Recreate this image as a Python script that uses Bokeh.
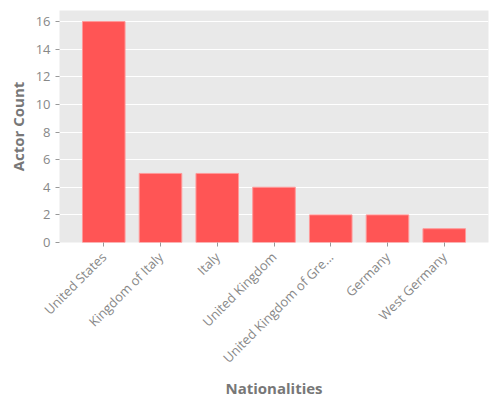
from bokeh.plotting import figure
from bokeh.models import FactorRange, Range1d
from bokeh.embed import file_html
from bokeh.resources import INLINE
import math

nationalities = ["United States", "Kingdom of Italy", "Italy", "United Kingdom",
                 "United Kingdom of Gre...", "Germany", "West Germany"]
counts = [16, 5, 5, 4, 2, 2, 1]

p = figure(frame_width=429, frame_height=232, output_backend="svg", toolbar_location=None,
           x_range=FactorRange(factors=nationalities, range_padding=0.08),
           y_range=Range1d(0, 16.8),
           min_border_left=59, min_border_right=12, min_border_top=10, min_border_bottom=145)

p.vbar(x=nationalities, top=counts, width=0.75, fill_color="#FF5555",
       line_color="#FF9999", line_width=1)

p.background_fill_color = "#E9E9E9"
p.border_fill_color = "white"
p.outline_line_color = None
p.grid.grid_line_color = "white"
p.grid.grid_line_width = 1
p.xgrid.grid_line_color = None

for ax in (p.xaxis, p.yaxis):
    ax.axis_line_color = None
    ax.major_tick_line_color = "#999999"
    ax.minor_tick_line_color = None
    ax.major_tick_in = 0
    ax.major_tick_out = 4
    ax.major_label_text_color = "#888888"
    ax.major_label_text_font = "Open Sans"
    ax.major_label_text_font_size = "13px"
    ax.axis_label_text_color = "#777777"
    ax.axis_label_text_font = "Open Sans"
    ax.axis_label_text_font_style = "bold"
    ax.axis_label_text_font_size = "15px"

p.yaxis.ticker.desired_num_ticks = 9
p.yaxis.axis_label = "Actor Count"
p.xaxis.axis_label = "Nationalities"
p.xaxis.major_label_orientation = math.pi / 4
p.xaxis.major_label_standoff = 8
p.xaxis.axis_label_standoff = 2

open("out.html", "w").write(file_html(p, INLINE))
